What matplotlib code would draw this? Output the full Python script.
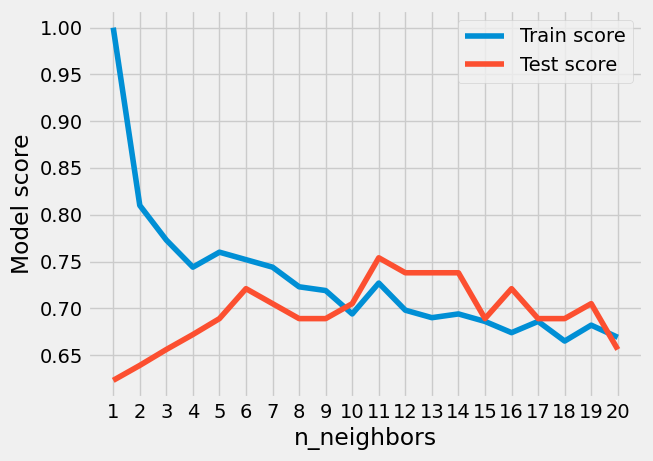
import matplotlib
matplotlib.use("Agg")
import matplotlib.pyplot as plt

plt.style.use("fivethirtyeight")

neighbors = list(range(1, 21))
train_scores = [1.0, 0.810, 0.773, 0.744, 0.760, 0.752, 0.744, 0.723, 0.719, 0.694,
                0.727, 0.698, 0.690, 0.694, 0.686, 0.674, 0.686, 0.665, 0.682, 0.669]
test_scores = [0.623, 0.639, 0.656, 0.672, 0.689, 0.721, 0.705, 0.689, 0.689, 0.705,
               0.754, 0.738, 0.738, 0.738, 0.689, 0.721, 0.689, 0.689, 0.705, 0.656]

fig = plt.figure(figsize=(6.53, 4.61), dpi=100)
ax = fig.add_axes([88/653, 1-398/461, (643-88)/653, (398-10)/461])
ax.plot(neighbors, train_scores, label="Train score")
ax.plot(neighbors, test_scores, label="Test score")
ax.set_xticks(neighbors)
ax.set_xlabel("n_neighbors")
ax.set_ylabel("Model score")
ax.legend()
fig.savefig("out.png", dpi=100)
